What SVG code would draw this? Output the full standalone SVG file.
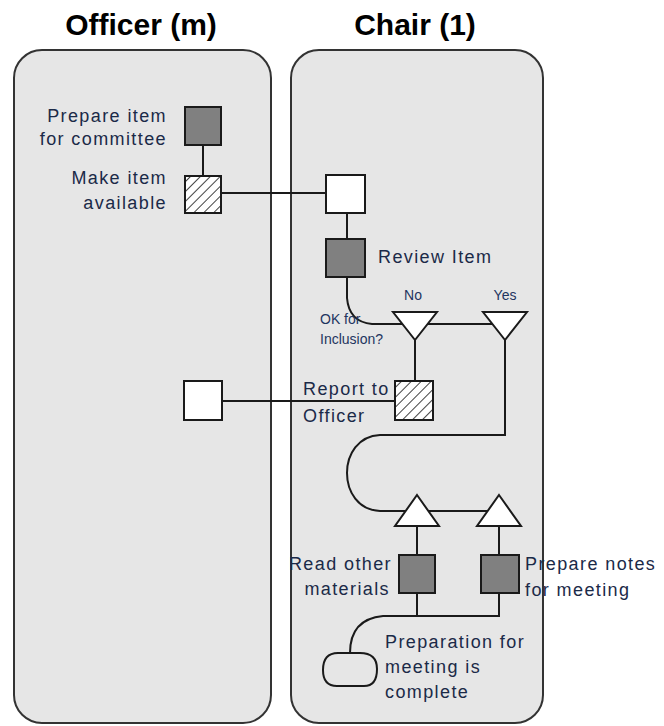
<svg xmlns="http://www.w3.org/2000/svg" width="664" height="726" viewBox="0 0 664 726">
<defs>
<pattern id="hatch" patternUnits="userSpaceOnUse" width="7" height="7" patternTransform="rotate(45)">
<rect width="7" height="7" fill="#fff"/>
<line x1="0" y1="0" x2="0" y2="7" stroke="#111" stroke-width="1.6"/>
</pattern>
</defs>
<style>
.lane{fill:#e6e6e6;stroke:#333;stroke-width:2}
.hdr{font-family:"Liberation Sans",Arial,sans-serif;font-size:30px;font-weight:bold;fill:#000;text-anchor:middle}
.t{font-family:"Liberation Sans",Arial,sans-serif;font-size:18px;letter-spacing:1.4px;fill:#1b2a48}
.s{font-family:"Liberation Sans",Arial,sans-serif;font-size:14px;fill:#1e3560}
.dark{fill:#808080;stroke:#1a1a1a;stroke-width:2}
.white{fill:#fff;stroke:#1a1a1a;stroke-width:2}
.hat{fill:url(#hatch);stroke:#1a1a1a;stroke-width:2}
.tri{fill:#fff;stroke:#1a1a1a;stroke-width:2;stroke-linejoin:miter}
.c{fill:none;stroke:#1a1a1a;stroke-width:2}
</style>
<rect width="664" height="726" fill="#fff"/>
<g id="lane-officer">
<rect class="lane" x="14" y="50" width="257" height="673" rx="28" ry="28"/>
<text class="hdr" x="141" y="35">Officer (m)</text>
</g>
<g id="lane-chair">
<rect class="lane" x="291" y="50" width="252" height="673" rx="28" ry="28"/>
<text class="hdr" x="415" y="35">Chair (1)</text>
</g>
<g id="connectors">
<line class="c" x1="203" y1="145" x2="203" y2="176"/>
<line class="c" x1="221" y1="193" x2="326" y2="193"/>
<line class="c" x1="347" y1="213" x2="347" y2="239"/>
<path class="c" d="M347 277 V298 Q349 322 372 324 H505"/>
<line class="c" x1="415" y1="340" x2="415" y2="381"/>
<line class="c" x1="222" y1="401" x2="395" y2="401"/>
<path class="c" d="M505 340 V435 H380 C336 437 336 509 380 511 H499"/>
<line class="c" x1="417" y1="526" x2="417" y2="555"/>
<line class="c" x1="499" y1="526" x2="499" y2="555"/>
<path class="c" d="M417 593 V616 M499 593 V616 H383 C362 618 350 630 350 653"/>
</g>
<g id="prepare-item">
<rect class="dark" x="185" y="107" width="36" height="38"/>
<text class="t" x="167" y="122" text-anchor="end">Prepare item</text>
<text class="t" x="167" y="145" text-anchor="end">for committee</text>
</g>
<g id="make-item-available">
<rect class="hat" x="185" y="176" width="36" height="37"/>
<text class="t" x="167" y="184" text-anchor="end">Make item</text>
<text class="t" x="167" y="209" text-anchor="end">available</text>
</g>
<g id="chair-receive">
<rect class="white" x="326" y="175" width="39" height="38"/>
</g>
<g id="review-item">
<rect class="dark" x="326" y="239" width="39" height="38"/>
<text class="t" x="378" y="263">Review Item</text>
</g>
<g id="ok-for-inclusion">
<text class="s" x="320" y="324">OK for</text>
<text class="s" x="320" y="344">Inclusion?</text>
</g>
<g id="branch-no">
<path class="tri" d="M393 312 H437 L415 340 Z"/>
<text class="s" x="413" y="300" text-anchor="middle">No</text>
</g>
<g id="branch-yes">
<path class="tri" d="M483 312 H527 L505 340 Z"/>
<text class="s" x="505" y="300" text-anchor="middle">Yes</text>
</g>
<g id="report-to-officer">
<rect class="hat" x="395" y="381" width="38" height="39"/>
<text class="t" x="303" y="395">Report to</text>
<text class="t" x="303" y="422">Officer</text>
</g>
<g id="officer-receive">
<rect class="white" x="184" y="381" width="38" height="39"/>
</g>
<g id="join-left">
<path class="tri" d="M417 495 L439 526 H395 Z"/>
</g>
<g id="join-right">
<path class="tri" d="M499 495 L521 526 H477 Z"/>
</g>
<g id="read-other-materials">
<rect class="dark" x="399" y="555" width="36" height="38"/>
<text class="t" x="392" y="570" text-anchor="end">Read other</text>
<text class="t" x="390" y="595" text-anchor="end">materials</text>
</g>
<g id="prepare-notes">
<rect class="dark" x="481" y="555" width="38" height="38"/>
<text class="t" x="525" y="570">Prepare notes</text>
<text class="t" x="525" y="596">for meeting</text>
</g>
<g id="preparation-complete">
<path class="c" d="M338 653 H360 Q377 653 377 669 Q377 686 364 686 H337 Q323 686 323 670 Q323 653 338 653 Z"/>
<text class="t" x="385" y="648">Preparation for</text>
<text class="t" x="385" y="673">meeting is</text>
<text class="t" x="385" y="698">complete</text>
</g>
</svg>
